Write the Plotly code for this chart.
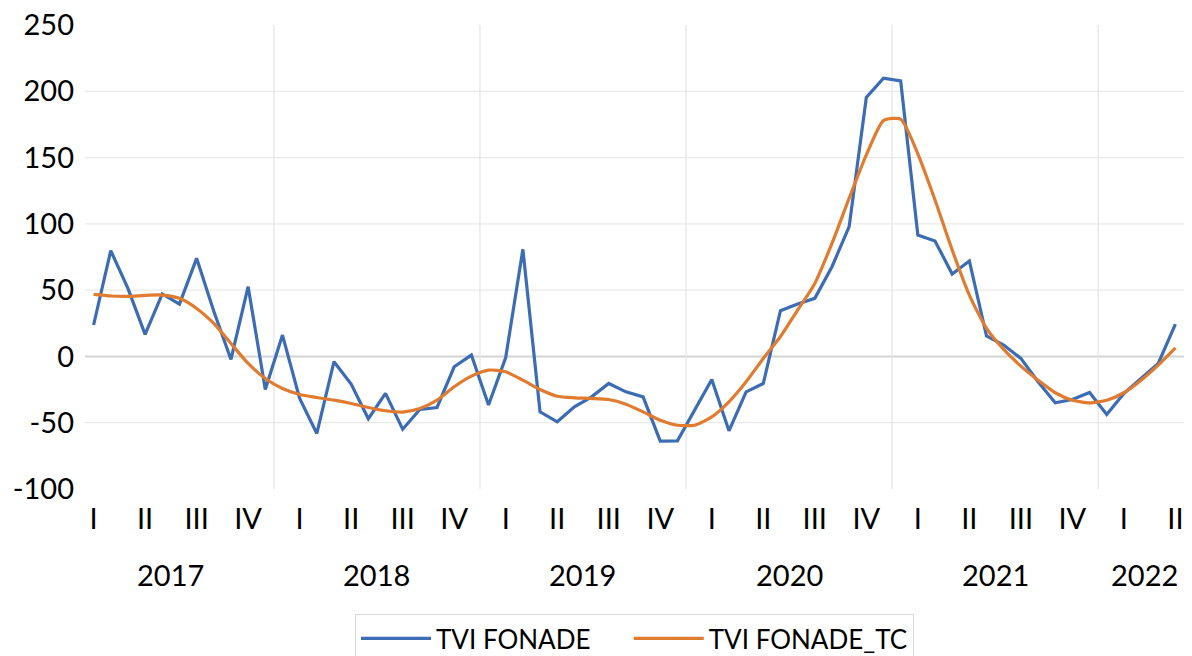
import plotly.graph_objects as go

# ---- data ----
years = [2017, 2018, 2019, 2020, 2021, 2022]
quarter_names = ["I", "II", "III", "IV"]
months = [f"{y}-{m:02d}" for y in years for m in range(1, 13)][:64]  # Jan 2017 .. Apr 2022

tvi_fonade = [23.7, 79.8, 51.3, 16.6, 47.1, 39.5, 74.0, 34.0, -2.3, 52.6, -24.9, 16.1,
              -31.7, -58.1, -4.0, -20.9, -47.0, -27.9, -54.9, -40.0, -38.5, -7.8, 1.0, -36.7,
              -0.8, 80.8, -41.8, -49.3, -38.0, -30.5, -20.4, -26.7, -30.5, -63.9, -63.7, -40.5,
              -17.4, -56.1, -26.7, -20.4, 34.5, 39.5, 43.8, 67.7, 97.9, 195.3, 209.9, 207.9,
              91.6, 87.1, 62.2, 72.0, 15.4, 8.6, -1.5, -19.1, -35.0, -32.5, -27.2, -43.8,
              -27.9, -16.6, -5.3, 24.4]

tvi_fonade_tc = [46.8, 45.6, 45.3, 46.1, 46.3, 43.8, 36.2, 24.9, 9.8, -5.3, -16.6, -24.2,
                 -28.7, -31.0, -33.0, -35.5, -38.5, -41.0, -42.0, -39.3, -33.0, -22.9, -14.9, -10.3,
                 -11.6, -17.9, -24.9, -30.0, -31.2, -31.7, -32.5, -36.0, -41.8, -48.1, -51.9, -51.9,
                 -45.6, -34.2, -19.1, -1.5, 15.0, 35.0, 55.1, 85.3, 119.3, 152.0, 177.9, 179.0,
                 152.8, 118.0, 80.3, 46.3, 21.1, 5.3, -7.3, -17.9, -27.4, -33.0, -35.0, -33.0,
                 -27.4, -17.9, -6.5, 6.5]

y_ticks = [-100, -50, 0, 50, 100, 150, 200, 250]
y_ticktext = ["-100", "-50", "0", "50", "100", "150", "200", "250"]

# ---- derived ----
n = len(months)
xs = list(range(n))
q_tickvals = [i for i in xs if int(months[i][5:7]) % 3 == 1]
q_ticktext = [quarter_names[(int(months[i][5:7]) - 1) // 3] for i in q_tickvals]

FONT = "Lato"
BLUE = "#3c6cb4"
ORANGE = "#e07b2f"
NBSP = "\u00a0"

fig = go.Figure()
fig.add_trace(go.Scatter(x=xs, y=tvi_fonade, mode="lines", name="TVI FONADE" + NBSP * 5,
                         line=dict(color=BLUE, width=3.2)))
fig.add_trace(go.Scatter(x=xs, y=tvi_fonade_tc, mode="lines", name="TVI FONADE_TC",
                         line=dict(color=ORANGE, width=3.2, shape="spline", smoothing=0.6)))

shapes = []
# horizontal gridlines (Excel style: none at the extremes)
for v in y_ticks[1:-1]:
    shapes.append(dict(type="line", xref="paper", yref="y", x0=0, x1=1, y0=v, y1=v,
                       line=dict(color="#d4d4d4" if v == 0 else "#eaeaea",
                                 width=2 if v == 0 else 1.3), layer="below"))
# vertical year separators
for j in range(len(years) - 1):
    xv = 10.5 + 12 * j
    shapes.append(dict(type="line", xref="x", yref="paper", x0=xv, x1=xv, y0=0, y1=1,
                       line=dict(color="#e6e6e6", width=1.3), layer="below"))

annotations = []
year_pos = [4.5, 16.5, 28.5, 40.5, 52.5, 61.2]
for y, xp in zip(years, year_pos):
    annotations.append(dict(x=xp, y=0, xref="x", yref="paper", text=str(y), showarrow=False,
                            yanchor="middle", yshift=-85,
                            font=dict(family=FONT, size=29, color="#000000")))

fig.update_layout(
    width=1192, height=656,
    margin=dict(l=85, r=8, t=25, b=167, autoexpand=False),
    paper_bgcolor="white", plot_bgcolor="white",
    shapes=shapes, annotations=annotations,
    xaxis=dict(range=[-0.5, n - 0.5], tickmode="array", tickvals=q_tickvals, ticktext=q_ticktext,
               showgrid=False, zeroline=False, showline=False, ticks="", automargin=False,
               ticklabeloverflow="allow",
               tickfont=dict(family=FONT, size=29, color="#000000"), ticklabelstandoff=10),
    yaxis=dict(range=[-100, 250], tickmode="array", tickvals=y_ticks, ticktext=y_ticktext,
               showgrid=False, zeroline=False, showline=False, ticks="", automargin=False,
               ticklabeloverflow="allow",
               tickfont=dict(family=FONT, size=29, color="#000000"), ticklabelstandoff=10),
    showlegend=True,
    legend=dict(orientation="h", x=0.5, xanchor="center", y=-0.2694, yanchor="top",
                bordercolor="#d9d9d9", borderwidth=1, bgcolor="white",
                font=dict(family=FONT, size=26, color="#000000"),
                itemwidth=70),
)

fig.write_html("out.html", config={"displayModeBar": False},
               post_script="document.body.style.margin='0';")
